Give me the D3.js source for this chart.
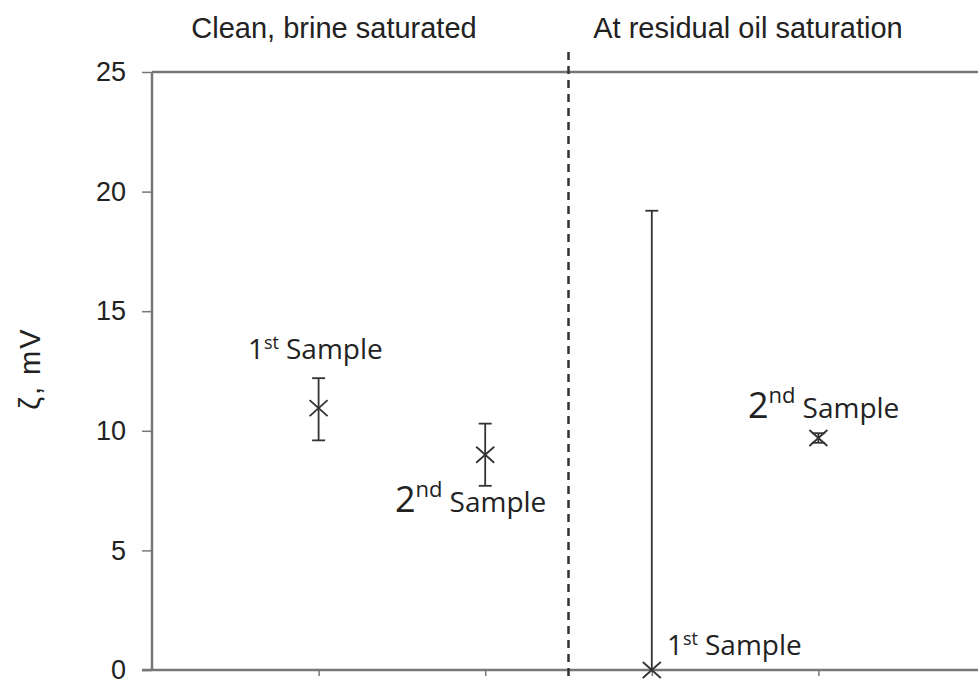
<!DOCTYPE html>
<html>
<head>
<meta charset="utf-8">
<script src="https://cdn.jsdelivr.net/npm/d3@7"></script>
<style>
  body { margin: 0; background: #fff; }
  svg { display: block; }
</style>
</head>
<body>
<div id="container"></div>
<script>
// data
var groups = ["Clean, brine saturated", "At residual oil saturation"];
var groupCenters = [334, 748];
var positions = [1, 2, 3, 4];
var values = [10.95, 9.0, 0.0, 9.7];
var errLow = [9.6, 7.7, 0.0, 9.5];
var errHigh = [12.2, 10.3, 19.2, 9.9];
var ordinals = ["1", "2", "1", "2"];
var suffixes = ["st", "nd", "st", "nd"];
var yTicks = [0, 5, 10, 15, 20, 25];

var createChart = function () {
    var svg = d3.select("#container")
        .append("svg")
        .attr("width", 978)
        .attr("height", 682);

    var x = d3.scaleLinear().domain([0, 5]).range([152, 985]);
    var y = d3.scaleLinear().domain([0, 25]).range([670, 72]);

    // y axis
    var yAxis = svg.append("g")
        .attr("transform", "translate(152,0)")
        .call(d3.axisLeft(y).tickValues(yTicks).tickSize(10).tickPadding(16));
    yAxis.select(".domain").attr("stroke", "#777").attr("stroke-width", 2.5)
        .attr("d", "M0," + y(25) + "V" + y(0));
    yAxis.selectAll(".tick line").attr("stroke", "#777").attr("stroke-width", 1.5);
    yAxis.selectAll(".tick text")
        .attr("fill", "#222")
        .style("font-family", "Liberation Sans, Arial, sans-serif")
        .style("font-size", "27px");

    // x axis at 0
    var xAxis = svg.append("g")
        .attr("transform", "translate(0," + y(0) + ")")
        .call(d3.axisBottom(x).tickValues(positions).tickSize(6).tickFormat(""));
    xAxis.select(".domain").attr("stroke", "#777").attr("stroke-width", 2.5)
        .attr("d", "M" + (x(0) - 10) + ",0H978");
    xAxis.selectAll(".tick line").attr("stroke", "#777").attr("stroke-width", 1.5);

    // top line at 25
    svg.append("line")
        .attr("x1", x(0)).attr("x2", 978)
        .attr("y1", y(25)).attr("y2", y(25))
        .attr("stroke", "#777").attr("stroke-width", 2.5);

    // dashed separator
    svg.append("line")
        .attr("x1", x(2.5)).attr("x2", x(2.5))
        .attr("y1", 52).attr("y2", 682)
        .attr("stroke", "#333").attr("stroke-width", 2.5)
        .attr("stroke-dasharray", "8,6");

    // group titles
    svg.selectAll(".group")
        .data(groups)
        .enter().append("text")
        .attr("x", function (d, i) { return groupCenters[i]; })
        .attr("y", 38)
        .attr("text-anchor", "middle")
        .attr("fill", "#222")
        .style("font-family", "Liberation Sans, Arial, sans-serif")
        .style("font-size", "29px")
        .text(function (d) { return d; });

    // y label
    svg.append("text")
        .attr("transform", "translate(40," + y(12.6) + ") rotate(-90)")
        .attr("text-anchor", "middle")
        .attr("fill", "#222")
        .style("font-family", "Liberation Sans, Arial, sans-serif")
        .style("font-size", "29px")
        .style("letter-spacing", "2px")
        .text("ζ, mV");

    // error bars
    var ink = "#333";
    positions.forEach(function (p, i) {
        var cx = x(p);
        svg.append("line")
            .attr("x1", cx).attr("x2", cx)
            .attr("y1", y(errLow[i])).attr("y2", y(errHigh[i]))
            .attr("stroke", ink).attr("stroke-width", 1.8);
        [errLow[i], errHigh[i]].forEach(function (v) {
            if (v === 0) return;
            svg.append("line")
                .attr("x1", cx - 6.5).attr("x2", cx + 6.5)
                .attr("y1", y(v)).attr("y2", y(v))
                .attr("stroke", ink).attr("stroke-width", 1.8);
        });
        // x marker
        var cy = y(values[i]);
        svg.append("path")
            .attr("d", "M" + (cx - 9) + "," + (cy - 8) + "L" + (cx + 9) + "," + (cy + 8) +
                "M" + (cx - 9) + "," + (cy + 8) + "L" + (cx + 9) + "," + (cy - 8))
            .attr("stroke", ink).attr("stroke-width", 1.8).attr("fill", "none");
    });

    // sample labels
    var labelPos = [
        { x: 248, y: 359, big: false },
        { x: 395, y: 512, big: true },
        { x: 667, y: 655, big: false },
        { x: 748, y: 418, big: true }
    ];
    labelPos.forEach(function (lp, i) {
        var t = svg.append("text")
            .attr("x", lp.x).attr("y", lp.y)
            .attr("fill", "#222")
            .style("font-family", "Open Sans, sans-serif");
        t.append("tspan")
            .style("font-size", lp.big ? "36px" : "28px")
            .text(ordinals[i]);
        t.append("tspan")
            .attr("dy", lp.big ? -15 : -10)
            .style("font-size", lp.big ? "22px" : "18px")
            .text(suffixes[i]);
        t.append("tspan")
            .attr("dy", lp.big ? 15 : 10)
            .attr("dx", 7)
            .style("font-size", "28px")
            .text("Sample");
    });
};

window.onload = createChart;
</script>
</body>
</html>
